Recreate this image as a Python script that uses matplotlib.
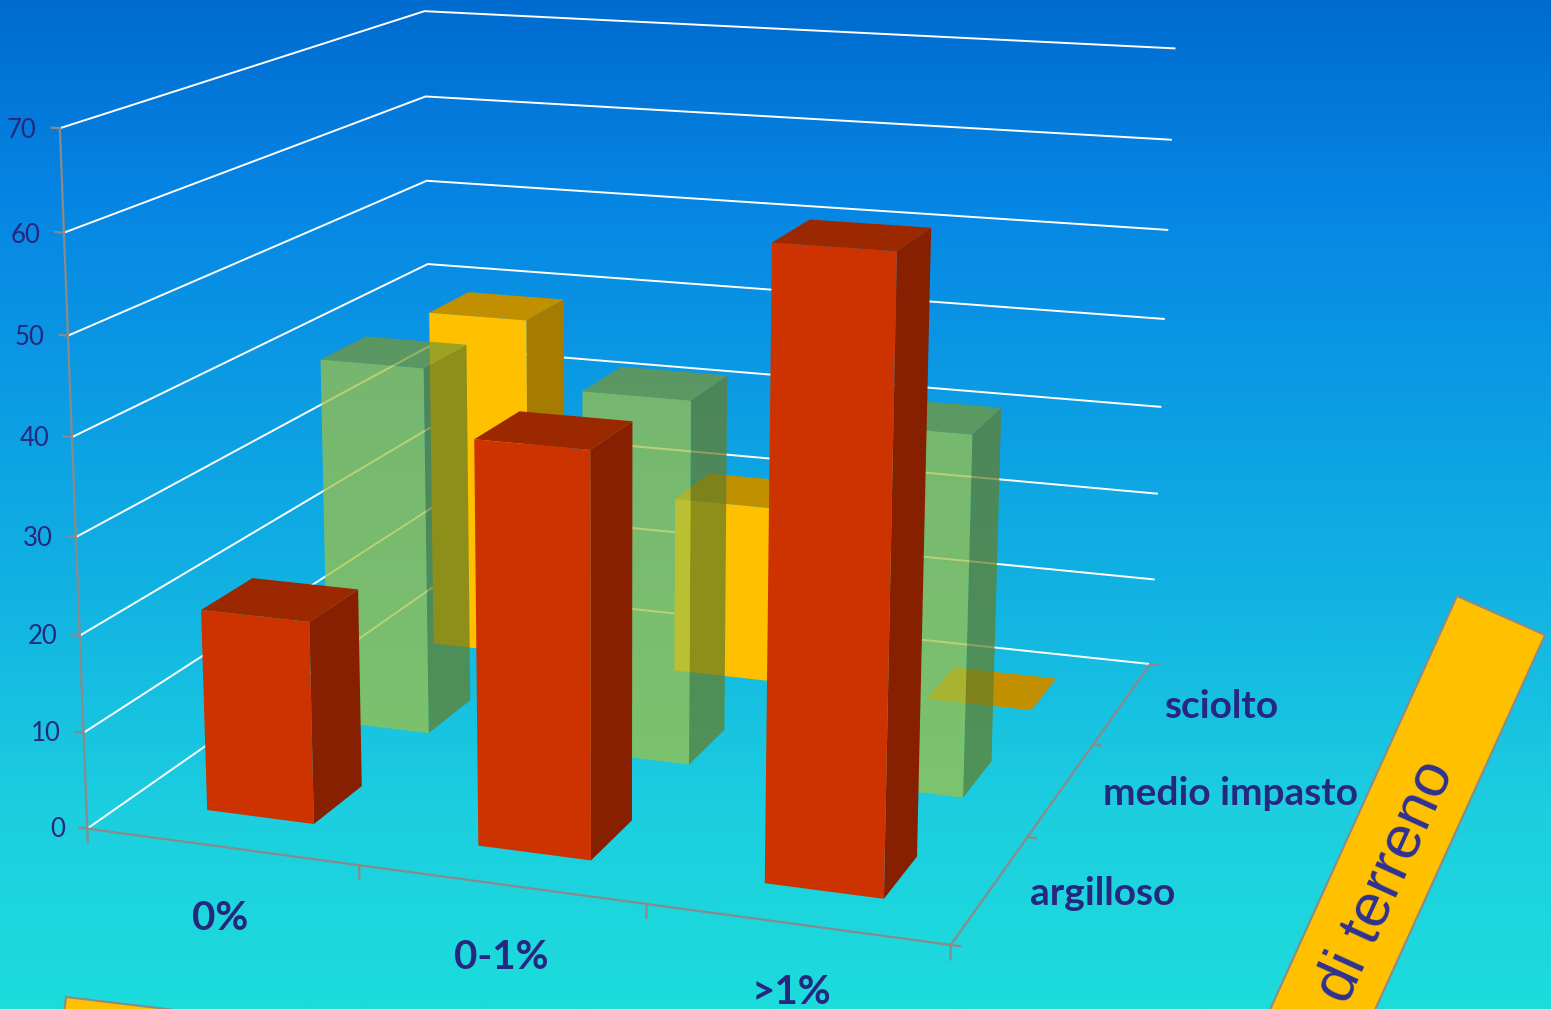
import numpy as np
import matplotlib
matplotlib.use("Agg")
import matplotlib.pyplot as plt
from matplotlib.colors import LinearSegmentedColormap, to_rgba
from matplotlib.patches import Polygon

W, H = 1551, 1009

# Chart content
categories = ["0%", "0-1%", ">1%"]
soil_types = ["argilloso", "medio impasto", "sciolto"]
argilloso = [21, 41, 62]
medio_impasto = [40, 39, 38]
sciolto = [39, 20, 0]
value_ticks = [0, 10, 20, 30, 40, 50, 60, 70]
soil_title = "di terreno"

TEXT = "#27277F"
AXIS = "#8A8A8A"
FONT = "Lato"

# Face colours of each series: front, side, top
palette = {
    0: ("#CC3300", "#862000", "#9C2800"),
    1: (to_rgba("#A0C144", 0.73), to_rgba("#647E26", 0.73), to_rgba("#799732", 0.73)),
    2: ("#FFC000", "#A67C00", "#C09000"),
}
series = {0: argilloso, 1: medio_impasto, 2: sciolto}

# Camera calibration: (category, depth, value) -> canvas position
left_front = [(60, 129), (64, 233), (68, 335), (72, 437), (76, 536), (80, 635), (84, 732), (88, 828)]
right_back = [(1175, 48), (1171, 140), (1167, 230), (1164, 319), (1160, 408), (1157, 494), (1153, 580), (1148, 663)]
left_back = [(424, 11), (425, 96), (427, 181), (428, 264)]
world, canvas = [], []
for i, v in enumerate(range(70, -1, -10)):
    world += [(0, 0, v), (3, 3, v)]
    canvas += [left_front[i], right_back[i]]
for i, v in enumerate(range(70, 39, -10)):
    world.append((0, 3, v))
    canvas.append(left_back[i])
world += [(3, 0, 0), (1, 0, 0), (2, 0, 0), (3, 1, 0), (3, 2, 0)]
canvas += [(948, 943), (358, 870), (645, 905), (1030, 836), (1097, 744)]

rows = []
for (X, Y, Z), (u, v) in zip(world, canvas):
    v = H - v
    rows.append([X, Y, Z, 1, 0, 0, 0, 0, -u * X, -u * Y, -u * Z, -u])
    rows.append([0, 0, 0, 0, X, Y, Z, 1, -v * X, -v * Y, -v * Z, -v])
P = np.linalg.svd(np.array(rows, float))[2][-1].reshape(3, 4)
if (P[2] @ np.array([1.5, 1.5, 0, 1])) < 0:
    P = -P
P = P / (P[2] @ np.array([1.5, 1.5, 0, 1]))
# Depth row grows with distance from the viewer so faces sort back to front
M = np.vstack([P[0], P[1], P[2] - np.array([0, 0, 0, 0.5]), P[2]])

fig = plt.figure(figsize=(W / 100, H / 100), dpi=100)

# Background gradient and the slanted title boxes
bg = fig.add_axes([0, 0, 1, 1], zorder=0)
cmap = LinearSegmentedColormap.from_list(
    "sky", [(0, "#006BCF"), (0.2, "#0686E4"), (0.55, "#10AEE3"), (0.8, "#1CCEE0"), (1, "#1DDCDB")]
)
bg.imshow(np.linspace(0, 1, 512)[:, None], aspect="auto", cmap=cmap, extent=(0, W, H, 0), vmin=0, vmax=1)
bg.set_xlim(0, W)
bg.set_ylim(H, 0)
bg.axis("off")
bg.add_patch(Polygon([(1457, 596), (1545, 635), (1375, 1010), (1350, 1065), (1245, 1065)],
                     closed=True, facecolor="#FFC000", edgecolor=AXIS, linewidth=1.5))
bg.add_patch(Polygon([(66, 997), (300, 1025), (60, 1045)],
                     closed=True, facecolor="#FFC000", edgecolor=AXIS, linewidth=1.5))
bg.text(1386, 882, soil_title, rotation=65.5, rotation_mode="anchor", ha="center", va="center",
        fontsize=44, color="#2E3192", family="Liberation Sans")

# 3D axes: a square box so mplot3d keeps it, with the calibrated camera
ax = fig.add_axes([0, 0, 1, W / H], projection="3d", zorder=1, computed_zorder=False)
ax.set_proj_type("ortho")
ax.set_facecolor("none")
ax.set_xticks([])
ax.set_yticks([])
ax.set_zticks([])
ax.set_axis_off()
ax.get_proj = lambda: M
ax.viewLim.intervalx = (0, W)
ax.viewLim.intervaly = (0, W)

# Walls
for v in value_ticks:
    ax.plot([0, 0, 3], [0, 3, 3], [v, v, v], color="white", lw=1.4, zorder=1)

# Axis lines and tick marks
line = dict(color=AXIS, lw=1.6, zorder=2)
ax.plot([0, 0], [0, 0], [0, 70], **line)
ax.plot([0, 3, 3], [0, 0, 3], [0, 0, 0], **line)
for v in value_ticks:
    ax.plot([-0.03, 0], [0, 0], [v, v], **line)
for c in range(4):
    ax.plot([c, c], [0, 0], [0, -1.4], **line)
for d in range(4):
    ax.plot([3, 3.03], [d, d], [0, 0], **line)

# Bars, back row first
BAR_W = 0.40
BAR_D = 0.40
for row in (2, 1, 0):
    front, side, top = palette[row]
    for c, value in enumerate(series[row]):
        # bar3d face order: -z, +z, -y, +y, -x, +x
        none = (0, 0, 0, 0)
        ax.bar3d(c + 0.5 - BAR_W / 2, row + 0.5 - BAR_D / 2, 0, BAR_W, BAR_D, max(value, 0.01),
                 color=[none, top, front, none, none, side], shade=False,
                 edgecolor="none", linewidth=0, zorder=10 + (2 - row) * 10 + c)

# Tick labels
for v in value_ticks:
    ax.text(-0.085, 0, v - 0.4, str(v), ha="right", va="center", fontsize=18.5, color=TEXT, family=FONT, zorder=50)
category_anchor = [(0.79, 0.3), (1.74, 0.4), (2.67, 1.0)]
for name, (x_at, z_at) in zip(categories, category_anchor):
    ax.text(x_at, -0.6, z_at, name, ha="center", va="center", fontsize=29, fontweight="bold",
            color=TEXT, family=FONT, zorder=50)
soil_anchor = [3.13, 3.147, 3.155]
for d, (name, x_at) in enumerate(zip(soil_types, soil_anchor)):
    ax.text(x_at, d + 0.5, 0.1, name, ha="left", va="center", fontsize=28, fontweight="bold",
            color=TEXT, family=FONT, zorder=50)

fig.savefig("out.png", dpi=100)
